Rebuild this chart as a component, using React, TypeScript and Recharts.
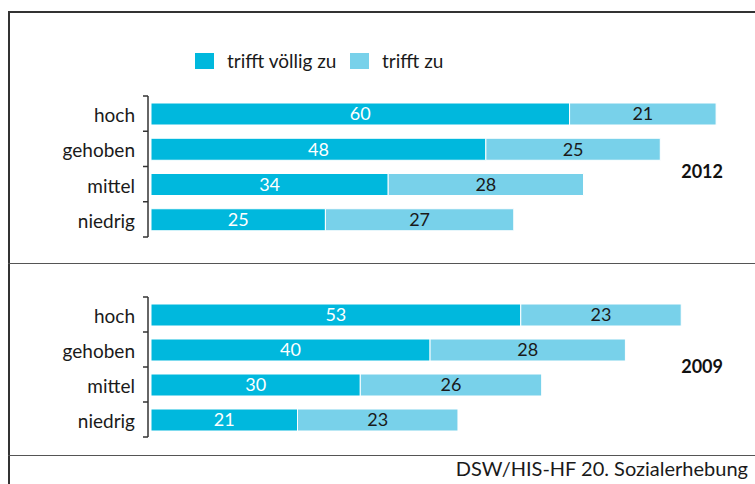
import { BarChart, Bar, XAxis, YAxis, LabelList, Legend } from "recharts";

const categories = ["hoch", "gehoben", "mittel", "niedrig"];
const voellig2012 = [60, 48, 34, 25];
const zu2012 = [21, 25, 28, 27];
const voellig2009 = [53, 40, 30, 21];
const zu2009 = [23, 28, 26, 23];

const seriesNames = ["trifft völlig zu", "trifft zu"];
const DARK = "#00b8dd";
const LIGHT = "#78d1ea";
const FONT = "Lato, 'Open Sans', sans-serif";

const AXIS_W = 148;

const buildRows = (a: number[], b: number[]) =>
  categories.map((name, i) => ({ name, voellig: a[i], zu: b[i] }));

const BracketTick = (props: any) => {
  const { y, payload, index, band } = props;
  const isLast = index === categories.length - 1;
  return (
    <g>
      <text
        x={AXIS_W - 13}
        y={y + 1}
        textAnchor="end"
        dominantBaseline="central"
        fontSize={19}
        fontFamily={FONT}
        fill="#1a1a1a"
      >
        {payload.value}
      </text>
      <line x1={AXIS_W - 5} x2={AXIS_W} y1={y - band / 2} y2={y - band / 2} stroke="#333" strokeWidth={1.5} />
      {isLast && (
        <line x1={AXIS_W - 5} x2={AXIS_W} y1={y + band / 2} y2={y + band / 2} stroke="#333" strokeWidth={1.5} />
      )}
    </g>
  );
};

// legend items sit at fixed spots like the original
const LegendContent = () => (
  <div style={{ position: "relative", fontFamily: FONT, fontSize: 19, color: "#1a1a1a", height: 24 }}>
    {seriesNames.map((n, i) => (
      <div key={n} style={{ position: "absolute", left: i === 0 ? 0 : 155, top: 0, display: "flex", alignItems: "center", whiteSpace: "nowrap" }}>
        <span style={{ width: 19, height: 16, background: i === 0 ? DARK : LIGHT, display: "inline-block", marginRight: 13 }} />
        <span>{n}</span>
      </div>
    ))}
  </div>
);

function Panel({
  rows,
  height,
  top,
  bottom,
  withLegend,
}: {
  rows: { name: string; voellig: number; zu: number }[];
  height: number;
  top: number;
  bottom: number;
  withLegend?: boolean;
}) {
  const band = (height - top - bottom) / categories.length;
  return (
    <BarChart
      width={755}
      height={height}
      data={rows}
      layout="vertical"
      margin={{ top, right: 11, bottom, left: 0 }}
      barSize={22}
    >
      <XAxis type="number" domain={[0, 85]} hide padding={{ left: 3, right: 0 }} />
      <YAxis
        type="category"
        dataKey="name"
        width={AXIS_W}
        axisLine={{ stroke: "#333", strokeWidth: 1.5 }}
        tickLine={false}
        tick={<BracketTick band={band} />}
      />
      {withLegend && (
        <Legend
          layout="vertical"
          align="center"
          verticalAlign="middle"
          content={<LegendContent />}
          wrapperStyle={{ top: 38, left: 195, width: 400, height: 24 }}
        />
      )}
      <Bar dataKey="voellig" stackId="s" fill={DARK} stroke="#fff" strokeWidth={1} isAnimationActive={false}>
        <LabelList dataKey="voellig" position="center" fill="#fff" fontSize={18} fontFamily={FONT} />
      </Bar>
      <Bar dataKey="zu" stackId="s" fill={LIGHT} stroke="#fff" strokeWidth={1} isAnimationActive={false}>
        <LabelList dataKey="zu" position="center" fill="#1a1a1a" fontSize={18} fontFamily={FONT} />
      </Bar>
    </BarChart>
  );
}

export default function App() {
  const yearStyle: React.CSSProperties = {
    position: "absolute",
    right: 32,
    fontFamily: FONT,
    fontWeight: 700,
    fontSize: 18,
    color: "#111",
  };
  return (
    <div style={{ position: "absolute", left: 0, top: 0, width: 755, height: 484, overflow: "hidden", background: "#fff" }}>
      <div style={{ position: "absolute", left: 8, top: 11, width: 800, height: 500, borderLeft: "2px solid #333", borderTop: "2px solid #333" }} />
      <div style={{ position: "absolute", left: 8, top: 263, width: 800, height: 0, borderTop: "1.5px solid #555" }} />
      <div style={{ position: "absolute", left: 8, top: 455, width: 800, height: 0, borderTop: "1.5px solid #555" }} />

      <div style={{ position: "absolute", left: 0, top: 11 }}>
        <Panel rows={buildRows(voellig2012, zu2012)} height={250} top={85} bottom={24} withLegend />
      </div>
      <div style={{ position: "absolute", left: 0, top: 266 }}>
        <Panel rows={buildRows(voellig2009, zu2009)} height={190} top={31} bottom={19} />
      </div>

      <div style={{ ...yearStyle, top: 160 }}>2012</div>
      <div style={{ ...yearStyle, top: 355 }}>2009</div>

      <div style={{ position: "absolute", right: 7, top: 456, fontFamily: FONT, fontSize: 20, color: "#1a1a1a" }}>
        DSW/HIS-HF 20. Sozialerhebung
      </div>
    </div>
  );
}
